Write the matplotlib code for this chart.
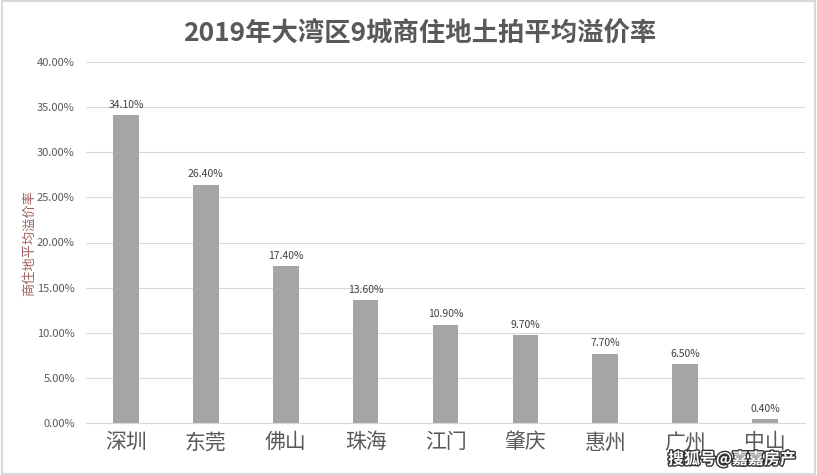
import matplotlib
matplotlib.use("Agg")
import matplotlib.pyplot as plt
from matplotlib.ticker import FuncFormatter, MultipleLocator
import matplotlib.patheffects as pe

plt.rcParams['font.family'] = ['Noto Sans CJK SC', 'DejaVu Sans']

cities = ["深圳", "东莞", "佛山", "珠海", "江门", "肇庆", "惠州", "广州", "中山"]
values = [34.10, 26.40, 17.40, 13.60, 10.90, 9.70, 7.70, 6.50, 0.40]
title = "2019年大湾区9城商住地土拍平均溢价率"
ylabel = "商住地平均溢价率"

fig = plt.figure(figsize=(8.17, 4.75), dpi=100)
fig.patch.set_facecolor("white")
ax = fig.add_axes([86/817, 1-423/475, (805-86)/817, (423-62)/475])

x = list(range(len(cities)))
bars = ax.bar(x, values, width=0.32, color="#a5a5a5", zorder=3)
for xi, v in zip(x, values):
    ax.text(xi, v + 0.6, f"{v:.2f}%", ha="center", va="bottom", fontsize=7.5, color="#404040")

ax.set_xlim(-0.5, len(cities) - 0.5)
ax.set_ylim(0, 40)
ax.yaxis.set_major_locator(MultipleLocator(5))
ax.yaxis.set_major_formatter(FuncFormatter(lambda v, p: f"{v:.2f}%"))
ax.grid(axis="y", color="#d9d9d9", linewidth=0.8, zorder=0)
for s in ["top", "right", "left"]:
    ax.spines[s].set_visible(False)
ax.spines["bottom"].set_color("#d9d9d9")
ax.tick_params(axis="y", length=0, labelsize=8, labelcolor="#595959", pad=8)
ax.tick_params(axis="x", length=0, labelsize=15, labelcolor="#595959", pad=6)
ax.set_xticks(x)
ax.set_xticklabels(cities)
ax.set_ylabel(ylabel, fontsize=9.5, color="#a06060")
ax.yaxis.set_label_coords(-0.07, 0.5)

fig.text(420/817, 1-33/475, title, ha="center", va="center", fontsize=19, fontweight="bold", color="#595959")

# border
fig.patches.append(plt.Rectangle((0.002, 0.002), 0.996, 0.996, transform=fig.transFigure,
                                 fill=False, edgecolor="#d9d9d9", linewidth=1.5))

# watermark
fig.text(668/817, 1-459/475, "搜狐号@嘉嘉房产", ha="left", va="center", fontsize=11.5,
         color="white", fontweight="bold",
         path_effects=[pe.withStroke(linewidth=2, foreground="#333333")])

fig.savefig("out.png", dpi=100)
